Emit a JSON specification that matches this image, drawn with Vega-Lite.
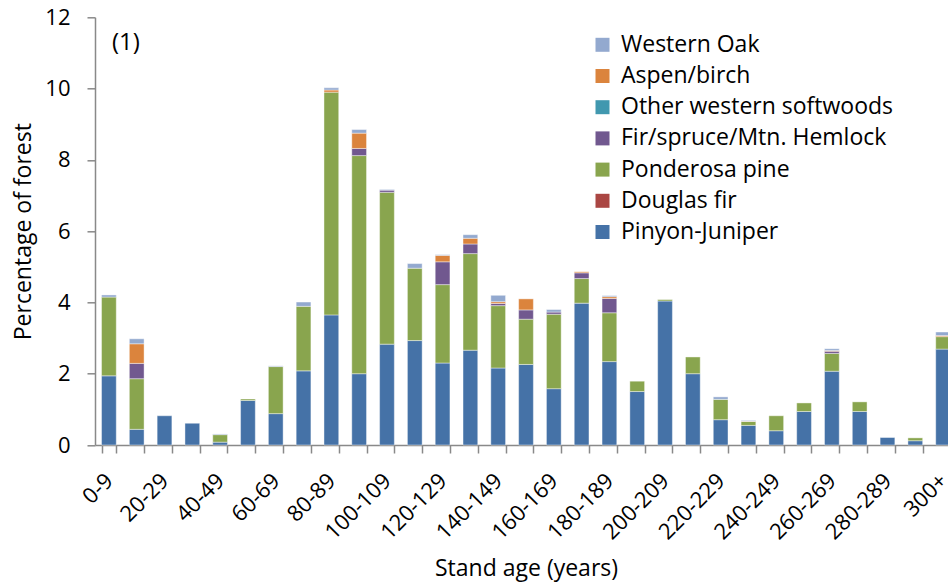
{
  "$schema": "https://vega.github.io/schema/vega-lite/v6.json",
  "autosize": {"type": "none"},
  "width": 862,
  "height": 427.7,
  "padding": {"left": 95, "top": 17.3, "right": -9, "bottom": 137},
  "background": "white",
  "config": {"view": {"stroke": null}, "font": "Open Sans"},
  "datasets": {
    "forest": [
      {"age": "0-9", "species": "Pinyon-Juniper", "pct": 1.94},
      {"age": "0-9", "species": "Ponderosa pine", "pct": 2.21},
      {"age": "0-9", "species": "Western Oak", "pct": 0.06},
      {"age": "10-19", "species": "Pinyon-Juniper", "pct": 0.44},
      {"age": "10-19", "species": "Ponderosa pine", "pct": 1.42},
      {"age": "10-19", "species": "Fir/spruce/Mtn. Hemlock", "pct": 0.43},
      {"age": "10-19", "species": "Aspen/birch", "pct": 0.55},
      {"age": "10-19", "species": "Western Oak", "pct": 0.14},
      {"age": "20-29", "species": "Pinyon-Juniper", "pct": 0.82},
      {"age": "30-39", "species": "Pinyon-Juniper", "pct": 0.61},
      {"age": "40-49", "species": "Pinyon-Juniper", "pct": 0.08},
      {"age": "40-49", "species": "Ponderosa pine", "pct": 0.21},
      {"age": "40-49", "species": "Western Oak", "pct": 0.02},
      {"age": "50-59", "species": "Pinyon-Juniper", "pct": 1.25},
      {"age": "50-59", "species": "Ponderosa pine", "pct": 0.04},
      {"age": "60-69", "species": "Pinyon-Juniper", "pct": 0.88},
      {"age": "60-69", "species": "Ponderosa pine", "pct": 1.32},
      {"age": "60-69", "species": "Western Oak", "pct": 0.02},
      {"age": "70-79", "species": "Pinyon-Juniper", "pct": 2.08},
      {"age": "70-79", "species": "Ponderosa pine", "pct": 1.81},
      {"age": "70-79", "species": "Western Oak", "pct": 0.12},
      {"age": "80-89", "species": "Pinyon-Juniper", "pct": 3.65},
      {"age": "80-89", "species": "Ponderosa pine", "pct": 6.25},
      {"age": "80-89", "species": "Aspen/birch", "pct": 0.06},
      {"age": "80-89", "species": "Western Oak", "pct": 0.06},
      {"age": "90-99", "species": "Pinyon-Juniper", "pct": 2.0},
      {"age": "90-99", "species": "Ponderosa pine", "pct": 6.12},
      {"age": "90-99", "species": "Fir/spruce/Mtn. Hemlock", "pct": 0.2},
      {"age": "90-99", "species": "Aspen/birch", "pct": 0.43},
      {"age": "90-99", "species": "Western Oak", "pct": 0.1},
      {"age": "100-109", "species": "Pinyon-Juniper", "pct": 2.83},
      {"age": "100-109", "species": "Ponderosa pine", "pct": 4.26},
      {"age": "100-109", "species": "Fir/spruce/Mtn. Hemlock", "pct": 0.06},
      {"age": "100-109", "species": "Western Oak", "pct": 0.02},
      {"age": "110-119", "species": "Pinyon-Juniper", "pct": 2.93},
      {"age": "110-119", "species": "Ponderosa pine", "pct": 2.03},
      {"age": "110-119", "species": "Western Oak", "pct": 0.13},
      {"age": "120-129", "species": "Pinyon-Juniper", "pct": 2.3},
      {"age": "120-129", "species": "Ponderosa pine", "pct": 2.2},
      {"age": "120-129", "species": "Fir/spruce/Mtn. Hemlock", "pct": 0.64},
      {"age": "120-129", "species": "Aspen/birch", "pct": 0.18},
      {"age": "120-129", "species": "Western Oak", "pct": 0.02},
      {"age": "130-139", "species": "Pinyon-Juniper", "pct": 2.66},
      {"age": "130-139", "species": "Ponderosa pine", "pct": 2.71},
      {"age": "130-139", "species": "Fir/spruce/Mtn. Hemlock", "pct": 0.27},
      {"age": "130-139", "species": "Aspen/birch", "pct": 0.16},
      {"age": "130-139", "species": "Western Oak", "pct": 0.1},
      {"age": "140-149", "species": "Pinyon-Juniper", "pct": 2.16},
      {"age": "140-149", "species": "Ponderosa pine", "pct": 1.75},
      {"age": "140-149", "species": "Fir/spruce/Mtn. Hemlock", "pct": 0.06},
      {"age": "140-149", "species": "Aspen/birch", "pct": 0.05},
      {"age": "140-149", "species": "Western Oak", "pct": 0.18},
      {"age": "150-159", "species": "Pinyon-Juniper", "pct": 2.26},
      {"age": "150-159", "species": "Ponderosa pine", "pct": 1.27},
      {"age": "150-159", "species": "Fir/spruce/Mtn. Hemlock", "pct": 0.26},
      {"age": "150-159", "species": "Aspen/birch", "pct": 0.31},
      {"age": "160-169", "species": "Pinyon-Juniper", "pct": 1.58},
      {"age": "160-169", "species": "Ponderosa pine", "pct": 2.09},
      {"age": "160-169", "species": "Fir/spruce/Mtn. Hemlock", "pct": 0.06},
      {"age": "160-169", "species": "Western Oak", "pct": 0.07},
      {"age": "170-179", "species": "Pinyon-Juniper", "pct": 3.98},
      {"age": "170-179", "species": "Ponderosa pine", "pct": 0.69},
      {"age": "170-179", "species": "Fir/spruce/Mtn. Hemlock", "pct": 0.16},
      {"age": "170-179", "species": "Aspen/birch", "pct": 0.03},
      {"age": "180-189", "species": "Pinyon-Juniper", "pct": 2.34},
      {"age": "180-189", "species": "Ponderosa pine", "pct": 1.37},
      {"age": "180-189", "species": "Fir/spruce/Mtn. Hemlock", "pct": 0.4},
      {"age": "180-189", "species": "Aspen/birch", "pct": 0.05},
      {"age": "180-189", "species": "Western Oak", "pct": 0.03},
      {"age": "190-199", "species": "Pinyon-Juniper", "pct": 1.5},
      {"age": "190-199", "species": "Ponderosa pine", "pct": 0.29},
      {"age": "200-209", "species": "Pinyon-Juniper", "pct": 4.04},
      {"age": "200-209", "species": "Ponderosa pine", "pct": 0.04},
      {"age": "210-219", "species": "Pinyon-Juniper", "pct": 2.0},
      {"age": "210-219", "species": "Ponderosa pine", "pct": 0.47},
      {"age": "220-229", "species": "Pinyon-Juniper", "pct": 0.71},
      {"age": "220-229", "species": "Ponderosa pine", "pct": 0.57},
      {"age": "220-229", "species": "Western Oak", "pct": 0.07},
      {"age": "230-239", "species": "Pinyon-Juniper", "pct": 0.55},
      {"age": "230-239", "species": "Ponderosa pine", "pct": 0.11},
      {"age": "230-239", "species": "Aspen/birch", "pct": 0.01},
      {"age": "230-239", "species": "Western Oak", "pct": 0.02},
      {"age": "240-249", "species": "Pinyon-Juniper", "pct": 0.4},
      {"age": "240-249", "species": "Ponderosa pine", "pct": 0.42},
      {"age": "250-259", "species": "Pinyon-Juniper", "pct": 0.94},
      {"age": "250-259", "species": "Ponderosa pine", "pct": 0.24},
      {"age": "260-269", "species": "Pinyon-Juniper", "pct": 2.07},
      {"age": "260-269", "species": "Ponderosa pine", "pct": 0.5},
      {"age": "260-269", "species": "Fir/spruce/Mtn. Hemlock", "pct": 0.06},
      {"age": "260-269", "species": "Aspen/birch", "pct": 0.02},
      {"age": "260-269", "species": "Western Oak", "pct": 0.05},
      {"age": "270-279", "species": "Pinyon-Juniper", "pct": 0.94},
      {"age": "270-279", "species": "Ponderosa pine", "pct": 0.27},
      {"age": "280-289", "species": "Pinyon-Juniper", "pct": 0.21},
      {"age": "290-299", "species": "Pinyon-Juniper", "pct": 0.12},
      {"age": "290-299", "species": "Ponderosa pine", "pct": 0.08},
      {"age": "300+", "species": "Pinyon-Juniper", "pct": 2.69},
      {"age": "300+", "species": "Ponderosa pine", "pct": 0.35},
      {"age": "300+", "species": "Aspen/birch", "pct": 0.03},
      {"age": "300+", "species": "Western Oak", "pct": 0.1}
    ],
    "label": [{"text": "(1)"}]
  },
  "layer": [
    {
      "data": {"name": "forest"},
      "transform": [
        {"calculate": "indexof(['Pinyon-Juniper','Douglas fir','Ponderosa pine','Fir/spruce/Mtn. Hemlock','Other western softwoods','Aspen/birch','Western Oak'], datum.species)", "as": "stackorder"}
      ],
      "mark": {"type": "bar", "stroke": "white", "strokeWidth": 0.6, "strokeOpacity": 0.7},
      "encoding": {
        "x": {
          "field": "age", "type": "nominal",
          "scale": {"domain": ["0-9","10-19","20-29","30-39","40-49","50-59","60-69","70-79","80-89","90-99","100-109","110-119","120-129","130-139","140-149","150-159","160-169","170-179","180-189","190-199","200-209","210-219","220-229","230-239","240-249","250-259","260-269","270-279","280-289","290-299","300+"], "paddingInner": 0.47, "paddingOuter": 0.235},
          "axis": {
            "title": "Stand age (years)",
            "labelExpr": "indexof(['0-9','20-29','40-49','60-69','80-89','100-109','120-129','140-149','160-169','180-189','200-209','220-229','240-249','260-269','280-289','300+'], datum.value) >= 0 ? datum.label : ''",
            "labelAngle": -45, "labelAlign": "right", "labelBaseline": "middle",
            "labelFont": "Open Sans", "labelFontSize": 22, "labelColor": "black", "labelPadding": 24,
            "tickBand": "extent", "tickSize": 8, "tickColor": "#898989", "tickWidth": 1.5,
            "domainColor": "#898989", "domainWidth": 1.5,
            "titleFont": "Open Sans", "titleFontSize": 23, "titleFontWeight": "normal", "titleColor": "black",
            "titleY": 130, "titleBaseline": "alphabetic"
          }
        },
        "y": {
          "field": "pct", "type": "quantitative", "stack": "zero",
          "scale": {"domain": [0, 12], "nice": false},
          "axis": {
            "title": "Percentage of forest", "values": [0, 2, 4, 6, 8, 10, 12], "grid": false,
            "labelFont": "Open Sans", "labelFontSize": 22, "labelColor": "black", "labelPadding": 17,
            "tickSize": 8, "tickColor": "#898989", "tickWidth": 1.5,
            "domainColor": "#898989", "domainWidth": 1.5,
            "titleFont": "Open Sans", "titleFontSize": 23, "titleFontWeight": "normal", "titleColor": "black",
            "titleX": -72, "titleY": 213.85, "titleBaseline": "middle", "titleAngle": -90
          }
        },
        "color": {
          "field": "species", "type": "nominal",
          "scale": {
            "domain": ["Western Oak", "Aspen/birch", "Other western softwoods", "Fir/spruce/Mtn. Hemlock", "Ponderosa pine", "Douglas fir", "Pinyon-Juniper"],
            "range": ["#93A9CF", "#DB843D", "#4198AF", "#71588F", "#89A54E", "#AA4643", "#4572A7"]
          },
          "legend": {
            "title": null, "orient": "none", "legendX": 496, "legendY": 16,
            "symbolType": "square", "symbolSize": 196, "symbolStrokeWidth": 0, "symbolOpacity": 1,
            "labelFont": "Open Sans", "labelFontSize": 23, "labelColor": "black", "labelOffset": 7,
            "rowPadding": 7.2, "labelLimit": 400
          }
        },
        "order": {"field": "stackorder", "type": "quantitative"}
      }
    },
    {
      "data": {"name": "label"},
      "mark": {"type": "text", "align": "left", "baseline": "middle", "dx": 3, "fontSize": 24, "font": "Open Sans", "color": "black"},
      "encoding": {
        "x": {"datum": "0-9"},
        "y": {"datum": 11.29},
        "text": {"field": "text"}
      }
    }
  ]
}
